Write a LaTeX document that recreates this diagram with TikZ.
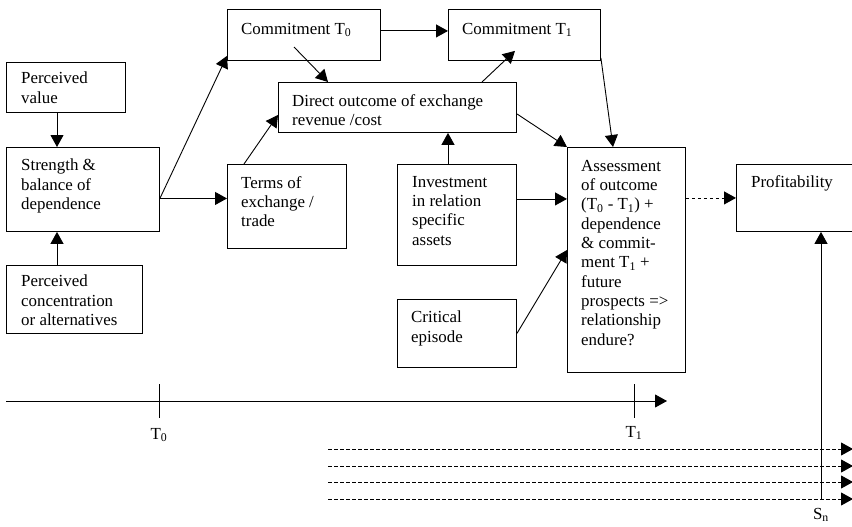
\documentclass[tikz,border=0pt]{standalone}
\usepackage{fontspec}
\setmainfont{Liberation Serif}
\usetikzlibrary{arrows.meta,calc}

\begin{document}
\begin{tikzpicture}[x=1pt,y=-1pt,
  box/.style={draw, line width=0.9pt, inner sep=0pt, anchor=north west},
  txt/.style={anchor=north west, inner sep=0pt, align=left,
    font=\fontsize{16.9}{19.3}\selectfont},
  lbl/.style={inner sep=0pt, font=\fontsize{16.9}{19.3}\selectfont},
  arr/.style={line width=0.9pt, -{Triangle[length=12pt,width=13pt]}},
  darr/.style={line width=0.9pt, dash pattern=on 3.5pt off 2.5pt,
    -{Triangle[length=12pt,width=13pt]}},
  axis/.style={line width=0.9pt}
]
\useasboundingbox (0,0) rectangle (852,527);

% boxes
\node[box, minimum width=119pt, minimum height=50pt]  (pv)    at (6,62)    {};
\node[box, minimum width=153pt, minimum height=84pt]  (st)    at (6,147)   {};
\node[box, minimum width=136pt, minimum height=68pt]  (pc)    at (6,265)   {};
\node[box, minimum width=153pt, minimum height=51pt]  (c0)    at (227,9)   {};
\node[box, minimum width=152pt, minimum height=51pt]  (c1)    at (448,9)   {};
\node[box, minimum width=238pt, minimum height=50pt]  (dout)  at (278,82)  {};
\node[box, minimum width=119pt, minimum height=84pt]  (terms) at (227,164) {};
\node[box, minimum width=119pt, minimum height=101pt] (inv)   at (397,164) {};
\node[box, minimum width=119pt, minimum height=68pt]  (crit)  at (397,299) {};
\node[box, minimum width=118pt, minimum height=225pt] (ass)   at (567,147) {};
\node[box, minimum width=140pt, minimum height=67pt]  (prof)  at (736,164) {};

% box texts
\node[txt] (pvt) at ([shift={(15pt,-10pt)}]pv.north west) {Perceived\\value};
\node[txt] (stt) at ([shift={(15pt,-12pt)}]st.north west) {Strength \&\\balance of\\dependence};
\node[txt] (pct) at ([shift={(15pt,-10pt)}]pc.north west) {Perceived\\concentration\\or alternatives};
\node[txt] (c0t) at ([shift={(14pt,-14pt)}]c0.north west) {Commitment T\textsubscript{0}};
\node[txt] (c1t) at ([shift={(14pt,-14pt)}]c1.north west) {Commitment T\textsubscript{1}};
\node[txt] (doutt) at ([shift={(14pt,-12pt)}]dout.north west) {Direct outcome of exchange\\revenue /cost};
\node[txt] (termst) at ([shift={(14pt,-12pt)}]terms.north west) {Terms of\\exchange /\\trade};
\node[txt] (invt) at ([shift={(15pt,-12pt)}]inv.north west) {Investment\\in relation\\specific\\assets};
\node[txt] (critt) at ([shift={(14pt,-12pt)}]crit.north west) {Critical\\episode};
\node[txt] (asst) at ([shift={(14pt,-13pt)}]ass.north west)
  {Assessment\\of outcome\\(T\textsubscript{0} - T\textsubscript{1}) +\\dependence\\\& commit-\\ment T\textsubscript{1} +\\future\\prospects =>\\relationship\\endure?};
\node[txt] (proft) at ([shift={(15pt,-11pt)}]prof.north west) {Profitability};

% connectors between boxes
\draw[arr] ([xshift=51pt]pv.south west) -- ([xshift=51pt]st.north west);
\draw[arr] ([xshift=51pt]pc.north west) -- ([xshift=51pt]st.south west);
\coordinate (sto) at ([yshift=-9pt]st.east);
\draw[arr] (sto) -- ([yshift=5pt]c0.south west);
\draw[arr] (sto) -- (sto -| terms.west);
\draw[arr] ([xshift=17pt]terms.north west) -- ([yshift=18pt]dout.south west);
\draw[arr] ([shift={(67pt,-38pt)}]c0.north west) -- ([xshift=50pt]dout.north west);
\draw[arr] ([yshift=4pt]c0.east) -- ([yshift=4pt]c1.west);
\draw[arr] ([xshift=204pt]dout.north west) -- ([shift={(67pt,10pt)}]c1.south west);
\draw[arr] ([yshift=3pt]c1.south east) -- ([xshift=46pt]ass.north west);
\draw[arr] ([yshift=19pt]dout.south east) -- (ass.north west);
\coordinate (invu) at ([xshift=51pt]inv.north west);
\draw[arr] (invu) -- (invu |- dout.south);
\coordinate (invo) at ([yshift=16pt]inv.east);
\draw[arr] (invo) -- (invo -| ass.west);
\draw[arr] (crit.east) -- ([yshift=-103pt]ass.north west);
\draw[darr] (ass.east |- prof.west) -- (prof.west);

% time axis
\coordinate (ax0) at (6,401);
\coordinate (ax1) at (667,401);
\draw[arr] (ax0) -- (ax1);
\draw[axis] (159,384) -- (159,418);
\draw[axis] (634,384) -- (634,418);
\node[lbl] (t0) at (159,435) {T\textsubscript{0}};
\node[lbl] (t1) at (634,433) {T\textsubscript{1}};

% scenario lines
\foreach \i/\yy in {1/449,2/466,3/482,4/499}{
  \coordinate (dl\i) at (328,\yy);
  \coordinate (dr\i) at (853,\yy);
  \draw[darr] (dl\i) -- (dr\i);
}
\coordinate (snb) at (821,499);
\draw[arr] (snb) -- (snb |- prof.south);
\node[lbl] (sn) at (821,515) {S\textsubscript{n}};
\end{tikzpicture}
\end{document}
